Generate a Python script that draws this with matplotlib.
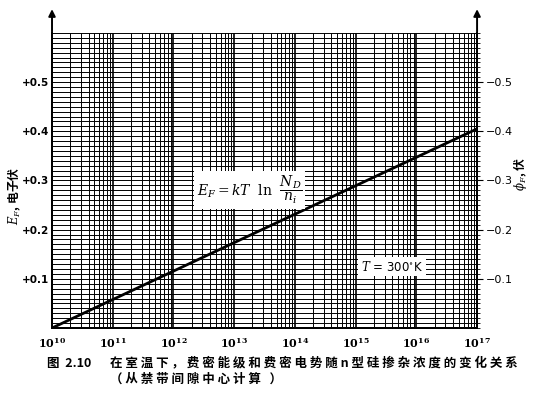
import numpy as np
import matplotlib
matplotlib.use("Agg")
import matplotlib.pyplot as plt
from matplotlib.ticker import LogLocator, MultipleLocator

plt.rcParams['font.family'] = ['DejaVu Sans', 'Noto Sans CJK SC']
plt.rcParams['mathtext.fontset'] = 'dejavuserif'
CJK = ['Noto Sans CJK SC', 'DejaVu Sans']

# doping concentration N_D (cm^-3) and Fermi level above midgap (eV)
nd = [1e10, 1e17]
ef = [0.0, 0.405]

left_ticks = [0.1, 0.2, 0.3, 0.4, 0.5]
left_labels = ['+0.1', '+0.2', '+0.3', '+0.4', '+0.5']
right_labels = ['\u22120.1', '\u22120.2', '\u22120.3', '\u22120.4', '\u22120.5']
x_ticks = [1e10, 1e11, 1e12, 1e13, 1e14, 1e15, 1e16, 1e17]
x_labels = ['$\\mathbf{10^{%d}}$' % i for i in range(10, 18)]

fig = plt.figure(figsize=(5.34, 3.95), dpi=100)
ax = fig.add_axes([0.0974, 0.1696, 0.796, 0.747])

ax.set_xscale('log')
ax.set_xlim(1e10, 1e17)
ax.set_ylim(0, 0.6)

# grid paper
ax.xaxis.set_minor_locator(LogLocator(base=10, subs=np.arange(2, 10)))
ax.yaxis.set_minor_locator(MultipleLocator(0.01))
ax.grid(which='major', axis='x', color='black', lw=1.2)
ax.grid(which='minor', axis='x', color='black', lw=0.7)
ax.grid(which='both', axis='y', color='black', lw=0.7)
ax.set_axisbelow(True)

ax.plot(nd, ef, color='black', lw=2.0, solid_capstyle='butt', zorder=5)

ax.set_xticks(x_ticks)
ax.set_xticklabels(x_labels, fontsize=8)
ax.set_yticks(left_ticks)
ax.set_yticklabels(left_labels, fontsize=7.5, fontweight='bold')
ax.tick_params(axis='both', which='both', length=0)
ax.tick_params(axis='x', pad=6)
ax.tick_params(axis='y', pad=2)

ax2 = ax.twinx()
ax2.set_ylim(0, 0.6)
ax2.set_yticks(left_ticks)
ax2.set_yticklabels(right_labels, fontsize=8)
ax2.yaxis.set_minor_locator(MultipleLocator(0.01))
ax2.tick_params(axis='y', which='major', length=4, pad=2)
ax2.tick_params(axis='y', which='minor', length=2)

for a in (ax, ax2):
    a.spines['top'].set_visible(False)
    for s in ('left', 'right', 'bottom'):
        a.spines[s].set_linewidth(1.4)

# axis arrows
for xf in (0.0, 1.0):
    ax.annotate('', xy=(xf, 1.09), xytext=(xf, 0.995), xycoords='axes fraction',
                arrowprops=dict(arrowstyle='-|>', color='black', lw=1.4,
                                mutation_scale=10), annotation_clip=False)

ax.text(1.8e13, 0.28, '$E_F = kT\\ \\ \\mathrm{ln}\\ \\ \\dfrac{N_D}{n_i}$',
        fontsize=10, ha='center', va='center', zorder=6,
        bbox=dict(facecolor='white', edgecolor='none', pad=2))
ax.text(4e15, 0.125, '$T$ = 300$^{\\circ}$K', fontsize=8.5, ha='center',
        va='center', zorder=6,
        bbox=dict(facecolor='white', edgecolor='none', pad=2))

fig.text(0.026, 0.505, '$E_F$, 电子伏', rotation=90, ha='center', va='center',
         fontsize=8.5, family=CJK, fontweight='bold')
fig.text(0.973, 0.56, '$\\phi_F$, 伏', rotation=90, ha='center', va='center',
         fontsize=8.5, family=CJK, fontweight='bold')

caption1 = '在室温下，费密能级和费密电势随n型硅掺杂浓度的变化关系'
caption2 = '（从禁带间隙中心计算 ）'
fig.text(0.088, 0.081, '图  2.10', fontsize=9, ha='left', va='center',
         fontweight='bold', family=CJK)
fig.text(0.206, 0.081, ' '.join(caption1), fontsize=9, ha='left', va='center',
         fontweight='bold', family=CJK)
fig.text(0.206, 0.040, ' '.join(caption2), fontsize=9, ha='left', va='center',
         fontweight='bold', family=CJK)

fig.savefig('out.png', dpi=100)
